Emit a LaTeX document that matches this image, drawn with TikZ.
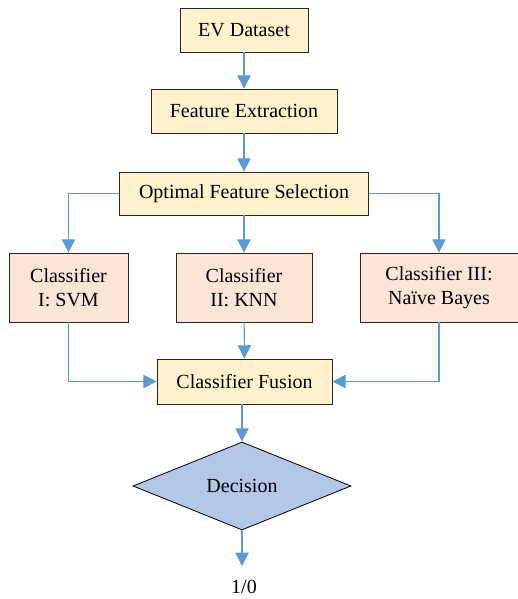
\documentclass[tikz,border=0pt]{standalone}
\usepackage{fontspec}
\setmainfont{Liberation Serif}
\usetikzlibrary{arrows.meta,shapes.geometric}
\definecolor{boxY}{HTML}{FFF2CC}
\definecolor{boxP}{HTML}{FBE5D6}
\definecolor{diaB}{HTML}{B4C7E7}
\definecolor{arr}{HTML}{5B9BD5}
\tikzset{
  txt/.style={font=\fontsize{15}{18.5}\selectfont},
  box/.style={draw=black!85, line width=0.6pt, inner sep=0pt, align=center, txt},
  ybox/.style={box, fill=boxY},
  pbox/.style={box, fill=boxP},
  conn/.style={draw=arr, line width=0.8pt, -{Triangle[width=10pt,length=10pt]}},
}
\begin{document}
\begin{tikzpicture}[x=0.75pt,y=-0.75pt]
\useasboundingbox (0,0) rectangle (517,599);
\node[ybox, minimum width=96pt, minimum height=33pt] (ev) at (244,30) {EV Dataset};
\node[ybox, minimum width=139.5pt, minimum height=33pt] (fe) at (244,111) {Feature Extraction};
\node[ybox, minimum width=186.75pt, minimum height=32.25pt] (ofs) at (244,193.5) {Optimal Feature Selection};
\node[pbox, minimum width=89.25pt, minimum height=51.75pt] (c1) at (68.5,287.5) {Classifier\\I: SVM};
\node[pbox, minimum width=102pt, minimum height=51.75pt] (c2) at (244,287.5) {Classifier\\II: KNN};
\node[pbox, minimum width=118.5pt, minimum height=51.75pt] (c3) at (439,287.5) {Classifier III:\\Naïve Bayes};
\node[ybox, minimum width=131.25pt, minimum height=33.75pt] (cf) at (244.5,381.5) {Classifier Fusion};
\node[diamond, draw=black, line width=0.6pt, fill=diaB, inner sep=0pt, minimum width=163.5pt, minimum height=66pt, txt] (dec) at (242,486) {Decision};
\node[txt, inner sep=0pt] (out) at (244,587) {1/0};
\coordinate (outtip) at (242,566);
\draw[conn] (ev) -- (fe);
\draw[conn] (fe) -- (ofs);
\draw[conn] (ofs) -- (c2);
\draw[conn] (ofs.west) -| (c1.north);
\draw[conn] (ofs.east) -| (c3.north);
\draw[conn] (c2) -- (cf);
\draw[conn] (c1.south) |- (cf.west);
\draw[conn] (c3.south) |- (cf.east);
\draw[conn] (cf.south -| dec.north) -- (dec.north);
\draw[conn] (dec.south) -- (outtip);
\end{tikzpicture}
\end{document}
